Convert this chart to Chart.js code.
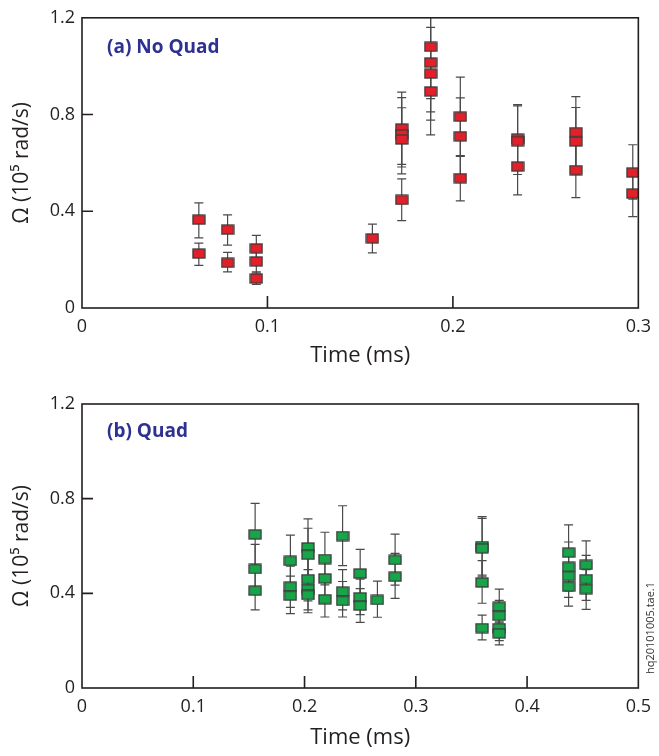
<!DOCTYPE html>
<html>
<head>
<meta charset="utf-8">
<script src="https://cdn.jsdelivr.net/npm/chart.js@4.4.1/dist/chart.umd.min.js"></script>
<style>
  html, body { margin: 0; padding: 0; background: #fff; }
  .box { position: absolute; left: 0; width: 659px; height: 378px; }
</style>
</head>
<body>
<div class="box" style="top:0"><canvas id="noQuadChart"></canvas></div>
<div class="box" style="top:378px"><canvas id="quadChart"></canvas></div>
<script>
// (a) No Quad
const topTime  = [0.063, 0.063, 0.0785, 0.0785, 0.094, 0.094, 0.094, 0.1566, 0.1724, 0.1724, 0.1724, 0.1724,
                  0.188, 0.188, 0.188, 0.188, 0.204, 0.204, 0.204, 0.2349, 0.2349, 0.2349, 0.2663, 0.2663, 0.2663, 0.297, 0.297];
const topOmega = [0.365, 0.225, 0.324, 0.187, 0.247, 0.193, 0.122, 0.288, 0.742, 0.718, 0.697, 0.447,
                  1.08, 1.015, 0.969, 0.896, 0.791, 0.71, 0.537, 0.70, 0.69, 0.585, 0.727, 0.689, 0.57, 0.56, 0.473];
const topLow   = [0.29, 0.176, 0.26, 0.149, 0.20, 0.145, 0.098, 0.228, 0.583, 0.594, 0.555, 0.361,
                  0.866, 0.811, 0.777, 0.716, 0.627, 0.55, 0.443, 0.57, 0.552, 0.468, 0.576, 0.552, 0.456, 0.45, 0.378];
const topHigh  = [0.435, 0.268, 0.385, 0.23, 0.30, 0.24, 0.15, 0.347, 0.893, 0.870, 0.828, 0.534,
                  1.29, 1.22, 1.16, 1.08, 0.955, 0.869, 0.63, 0.841, 0.836, 0.70, 0.874, 0.829, 0.684, 0.675, 0.568];
const topXTicks = [0, 0.1, 0.2, 0.3];

// (b) Quad
const botTime  = [0.1556, 0.1556, 0.1556, 0.1873, 0.1873, 0.1873, 0.2031, 0.2031, 0.2031, 0.2031, 0.2031,
                  0.2183, 0.2183, 0.2183, 0.2342, 0.2342, 0.2342, 0.25, 0.25, 0.25, 0.2655, 0.2814, 0.2814,
                  0.3596, 0.3596, 0.3596, 0.3596, 0.375, 0.375, 0.375, 0.375, 0.4373, 0.4373, 0.4373, 0.4373,
                  0.4531, 0.4531, 0.4531];
const botOmega = [0.649, 0.503, 0.411, 0.537, 0.428, 0.39, 0.594, 0.563, 0.46, 0.418, 0.393,
                  0.545, 0.463, 0.375, 0.642, 0.407, 0.368, 0.484, 0.383, 0.348, 0.372, 0.541, 0.47,
                  0.60, 0.59, 0.446, 0.253, 0.343, 0.305, 0.253, 0.231, 0.572, 0.512, 0.473, 0.428,
                  0.52, 0.46, 0.418];
const botLow   = [0.52, 0.40, 0.33, 0.43, 0.341, 0.314, 0.475, 0.45, 0.368, 0.33, 0.318,
                  0.436, 0.37, 0.30, 0.517, 0.33, 0.30, 0.386, 0.31, 0.277, 0.299, 0.435, 0.379,
                  0.477, 0.47, 0.358, 0.203, 0.275, 0.24, 0.20, 0.182, 0.46, 0.41, 0.383, 0.346,
                  0.418, 0.37, 0.332];
const botHigh  = [0.78, 0.607, 0.49, 0.646, 0.515, 0.473, 0.715, 0.675, 0.55, 0.50, 0.47,
                  0.658, 0.556, 0.45, 0.77, 0.50, 0.45, 0.586, 0.46, 0.42, 0.452, 0.65, 0.569,
                  0.724, 0.717, 0.538, 0.308, 0.418, 0.37, 0.30, 0.28, 0.689, 0.617, 0.57, 0.51,
                  0.622, 0.56, 0.50];
const botXTicks = [0, 0.1, 0.2, 0.3, 0.4, 0.5];

const yTicks = [0, 0.4, 0.8, 1.2];

const FONT = "'Open Sans', sans-serif";
const INK = '#231f20';

function marker(fill) {
  const c = document.createElement('canvas');
  c.width = 14; c.height = 11;
  const g = c.getContext('2d');
  g.fillStyle = fill;
  g.fillRect(1, 1, 12, 9);
  g.strokeStyle = '#3a3a3a';
  g.lineWidth = 1.3;
  g.strokeRect(1, 1, 12, 9);
  return c;
}

// error bars, frame, inner tick marks
const frame = {
  id: 'frame',
  beforeDatasetsDraw(chart, args, opts) {
    const { ctx, chartArea: a, scales: { x, y } } = chart;
    ctx.save();
    ctx.beginPath();
    ctx.rect(a.left, a.top, a.right - a.left, a.bottom - a.top);
    ctx.clip();
    ctx.strokeStyle = '#4a4a4a';
    ctx.lineWidth = 1.2;
    opts.time.forEach((t, i) => {
      const px = x.getPixelForValue(t);
      const lo = y.getPixelForValue(opts.low[i]);
      const hi = y.getPixelForValue(opts.high[i]);
      ctx.beginPath();
      ctx.moveTo(px, lo); ctx.lineTo(px, hi);
      ctx.moveTo(px - 4.5, lo); ctx.lineTo(px + 4.5, lo);
      ctx.moveTo(px - 4.5, hi); ctx.lineTo(px + 4.5, hi);
      ctx.stroke();
    });
    ctx.restore();
  },
  afterDatasetsDraw(chart, args, opts) {
    const { ctx, chartArea: a, scales: { x, y } } = chart;
    ctx.save();
    ctx.strokeStyle = INK;
    ctx.lineWidth = 1.6;
    ctx.strokeRect(a.left, a.top, a.right - a.left, a.bottom - a.top);
    ctx.beginPath();
    x.ticks.forEach(t => {
      if (t.value <= x.min || t.value >= x.max) return;
      const px = x.getPixelForValue(t.value);
      ctx.moveTo(px, a.bottom); ctx.lineTo(px, a.bottom - 12);
    });
    y.ticks.forEach(t => {
      if (t.value <= y.min || t.value >= y.max) return;
      const py = y.getPixelForValue(t.value);
      ctx.moveTo(a.left, py); ctx.lineTo(a.left + 11, py);
    });
    ctx.stroke();
    // panel label
    ctx.fillStyle = '#2e3192';
    ctx.font = "bold 19px " + FONT;
    ctx.textBaseline = 'middle';
    ctx.fillText(opts.label, a.left + 25, a.top + opts.labelDy);
    if (opts.side) {
      ctx.translate(651, 250);
      ctx.rotate(-Math.PI / 2);
      ctx.fillStyle = '#333';
      ctx.font = "11px " + FONT;
      ctx.textAlign = 'center';
      ctx.fillText(opts.side, 0, 0);
    }
    ctx.restore();
  }
};

function makeChart(id, time, omega, low, high, xTicks, color, plot, label, side) {
  return new Chart(document.getElementById(id), {
    type: 'scatter',
    data: {
      datasets: [{
        data: time.map((t, i) => ({ x: t, y: omega[i] })),
        pointStyle: marker(color),
        pointRadius: 6,
        pointHoverRadius: 6
      }]
    },
    options: {
      responsive: true,
      maintainAspectRatio: false,
      animation: false,
      events: [],
      layout: { padding: { left: 0, right: 19, top: plot.top, bottom: 0 } },
      plugins: {
        legend: { display: false },
        tooltip: { enabled: false },
        frame: { time, low, high, label, labelDy: plot.labelDy, side }
      },
      scales: {
        x: {
          type: 'linear',
          min: xTicks[0], max: xTicks[xTicks.length - 1],
          afterBuildTicks: s => { s.ticks = xTicks.map(v => ({ value: v })); },
          afterFit: s => { s.height = plot.xh; },
          grid: { display: false, drawTicks: false },
          border: { display: false },
          ticks: { padding: 8, color: INK, font: { family: FONT, size: 18 }, callback: v => String(v) },
          title: { display: true, text: 'Time (ms)', color: INK, font: { family: FONT, size: 22, lineHeight: 1.2 },
                   padding: { top: 0, bottom: plot.titlePad } }
        },
        y: {
          min: 0, max: 1.2,
          afterBuildTicks: s => { s.ticks = yTicks.map(v => ({ value: v })); },
          afterFit: s => { s.width = 82; },
          grid: { display: false, drawTicks: false },
          border: { display: false },
          ticks: { padding: 7, color: INK, font: { family: FONT, size: 18 }, callback: v => String(v) },
          title: { display: true, text: 'Ω (10⁵ rad/s)', color: INK, font: { family: FONT, size: 21, lineHeight: 1.2 },
                   padding: { top: 9, bottom: 0 } }
        }
      }
    },
    plugins: [frame]
  });
}

makeChart('noQuadChart', topTime, topOmega, topLow, topHigh, topXTicks, '#e3202a',
  { top: 15, xh: 70, titlePad: 9, labelDy: 30 }, '(a) No Quad', null);
makeChart('quadChart', botTime, botOmega, botLow, botHigh, botXTicks, '#17a54a',
  { top: 26, xh: 68, titlePad: 5, labelDy: 28 }, '(b) Quad', 'hq20101005.tae.1');
</script>
</body>
</html>
